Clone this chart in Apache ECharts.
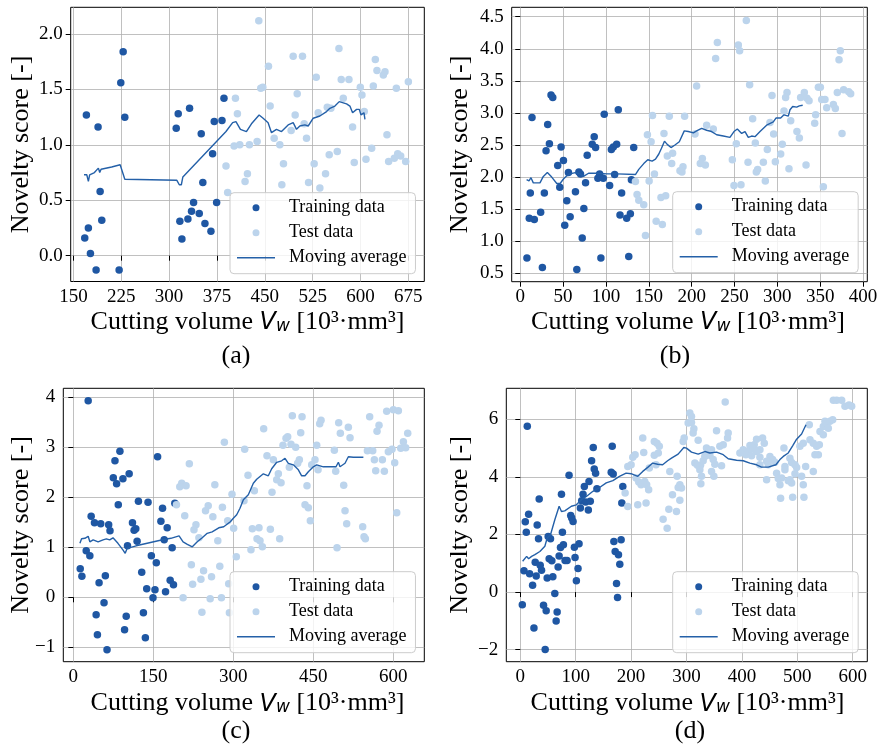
<!DOCTYPE html>
<html>
<head>
<meta charset="utf-8">
<script src="https://cdn.jsdelivr.net/npm/echarts@6/dist/echarts.min.js"></script>
<style>
html, body { margin: 0; padding: 0; background: #fff; }
#main { width: 882px; height: 745px; }
</style>
</head>
<body>
<div id="main"></div>
<script>
// panel (a)
var trainA = [[170.4,1.27],[188.7,1.16],[228,1.84],[224.3,1.56],[230.6,1.25],[191.9,0.58],[194.5,0.32],[173.5,0.25],[167.8,0.16],[176.7,0.02],[185.6,-0.13],[221.7,-0.13],[311.2,1.15],[314.3,1.28],[332.1,1.33],[350.4,1.10],[370.8,1.21],[382.9,1.22],[386,1.42],[368.2,0.92],[352.9,0.66],[338.4,0.48],[374.5,0.48],[316.9,0.31],[329.5,0.33],[335.2,0.40],[347.3,0.38],[356.2,0.29],[365.6,0.22],[320.1,0.15]];
var testA = [[389.2,0.81],[391.8,0.57],[440.6,2.12],[494.5,1.80],[509.1,1.80],[566.2,1.87],[455.8,1.71],[623.2,1.77],[625.8,1.67],[635.8,1.63],[638.4,1.66],[530.6,1.61],[569.8,1.59],[581.9,1.59],[675,1.57],[443.7,1.51],[446.9,1.52],[599.7,1.52],[620.1,1.53],[656.2,1.51],[500.8,1.46],[602.3,1.45],[404,1.42],[573,1.42],[458.4,1.35],[547.9,1.34],[553.6,1.33],[407.1,1.28],[497.6,1.27],[533.7,1.29],[605.9,1.30],[511.7,1.19],[587.6,1.16],[491.3,1.13],[464.7,1.06],[515.4,1.06],[641.5,1.09],[401.9,0.99],[410.8,1.00],[425.9,1.00],[438,1.03],[473.5,1.00],[617.5,0.97],[563.6,0.94],[551,0.91],[608.6,0.87],[590.2,0.84],[527.4,0.83],[479.3,0.83],[644.1,0.85],[653,0.88],[658.3,0.92],[663,0.90],[670.8,0.85],[422.8,0.74],[545.2,0.74],[419.1,0.67],[476.7,0.64],[518.6,0.66],[536.3,0.61]];
var avgA = [[166.7,0.73],[171,0.73],[173.5,0.67],[175.5,0.73],[183,0.75],[189.2,0.79],[191.3,0.75],[193.4,0.78],[210,0.80],[223.3,0.82],[225.4,0.83],[230.6,0.69],[312.2,0.68],[316,0.64],[319.2,0.64],[321.6,0.71],[389.2,1.12],[399.6,1.20],[404.8,1.21],[411.8,1.14],[421.2,1.12],[429.1,1.19],[441.1,1.27],[447.4,1.24],[455.2,1.20],[460.5,1.11],[468.3,1.14],[476.2,1.12],[486.6,1.18],[494.5,1.20],[499.7,1.14],[504.9,1.17],[512.8,1.18],[518,1.17],[525.9,1.24],[536.3,1.26],[546.8,1.30],[552,1.33],[559.9,1.35],[566.7,1.39],[578.2,1.37],[583.4,1.35],[587.6,1.29],[593.9,1.32],[598.1,1.32],[600.7,1.27],[605.4,1.29],[607,1.23]];
var xTicksA = [150,225,300,375,450,525,600,675];
var yTicksA = [0,0.5,1,1.5,2];

// panel (b)
var trainB = [[7.8,0.74],[10.5,1.36],[16.4,1.34],[11.7,1.75],[13.7,2.93],[25.8,0.59],[23.8,1.45],[28.1,1.75],[30.1,2.41],[32,2.82],[34,2.52],[35.9,3.28],[37.9,3.24],[43.7,2.18],[46.1,1.84],[47.6,2.47],[50.4,2.26],[51.9,1.25],[54.3,1.63],[56.2,2.07],[58.2,1.38],[64.4,1.77],[66,0.56],[68.4,2.08],[70.3,2.05],[72.3,1.05],[74.2,1.51],[76.2,1.91],[78.1,2.34],[84,2.51],[86.3,2.63],[87.9,2.46],[90.6,1.98],[92.6,2.05],[94.1,0.74],[96.9,1.98],[98,2.98],[104.3,1.87],[106.3,2.43],[108.6,2.47],[110.1,2.04],[112.5,2.51],[114.4,3.05],[116.4,1.41],[118.3,1.75],[124.2,1.36],[126.6,0.76],[128.5,1.43],[129.7,1.96],[132.4,2.46]];
var testB = [[134.4,1.93],[136.3,1.73],[138.3,1.64],[144.1,1.57],[146.1,1.09],[148.4,2.66],[150.4,1.94],[152.7,2.55],[154.3,2.96],[156.6,2.05],[158.6,1.31],[263.8,4.44],[230,4.10],[254.5,4.06],[256,3.97],[228,3.85],[373.5,3.97],[372,3.83],[205.8,3.42],[267.7,3.44],[293.8,3.27],[311.3,3.32],[309.7,3.24],[327.2,3.24],[331.5,3.32],[334.6,3.23],[337,3.19],[347.9,3.40],[350.2,3.40],[351.8,3.21],[355.6,3.21],[357.6,3.08],[365.4,3.13],[367.7,3.07],[370,3.32],[377.4,3.36],[383.3,3.33],[385.6,3.30],[173.9,2.95],[191.8,2.95],[307.8,3.03],[315.6,2.88],[344.7,2.97],[271.2,2.91],[217.5,2.81],[225.3,2.75],[291.4,2.85],[343.6,2.84],[167.7,2.68],[203.9,2.67],[295.7,2.67],[322.9,2.71],[325.7,2.61],[375.5,2.68],[252.1,2.52],[274.3,2.53],[305.8,2.51],[171.6,2.33],[177.8,2.37],[288.3,2.43],[303.9,2.36],[176.7,2.21],[212.5,2.29],[210.1,2.21],[216,2.19],[247.5,2.27],[265.8,2.23],[283.7,2.23],[297.7,2.24],[189.9,2.16],[186.4,2.10],[188.7,2.08],[275.5,2.08],[277,2.12],[313.6,2.13],[333.5,2.19],[286,1.94],[249.4,1.87],[257.6,1.88],[353.7,1.85],[169.7,1.71],[164.2,1.68],[165.8,1.26]];
var avgB = [[7.4,1.96],[10.2,1.94],[12.5,1.99],[15.2,1.91],[23,1.91],[26.9,2.01],[31.6,2.07],[36.7,2.0],[42.6,1.90],[46.5,1.90],[50.4,1.97],[54.3,2.02],[58.2,2.05],[64.1,2.07],[70,2.05],[73.8,2.01],[79.7,2.06],[89.5,2.06],[101.2,2.05],[112.9,2.05],[134.4,2.04],[138.3,2.12],[144.1,2.21],[148.8,2.27],[153.9,2.25],[157.8,2.28],[161.7,2.36],[164.8,2.45],[168.3,2.56],[171.5,2.51],[175.9,2.46],[180.5,2.50],[185.6,2.55],[191.4,2.72],[196.1,2.71],[202,2.69],[205.8,2.72],[211.7,2.76],[217.5,2.73],[223.3,2.71],[229.2,2.66],[237,2.64],[244.7,2.62],[249.4,2.71],[253.3,2.75],[258.4,2.68],[262.3,2.71],[266.1,2.62],[270,2.64],[273.9,2.63],[279.8,2.71],[287.5,2.81],[295.3,2.86],[298.4,2.92],[303.9,2.92],[307.8,2.97],[312.8,2.95],[314.8,3.05],[317.9,3.10],[322.6,3.09],[325.7,3.11],[329.6,3.12]];
var xTicksB = [0,50,100,150,200,250,300,350,400];
var yTicksB = [0.5,1,1.5,2,2.5,3,3.5,4,4.5];

// panel (c)
var trainC = [[27.9,3.93],[87.4,2.92],[78.1,2.73],[104.7,2.47],[75,2.39],[93,2.37],[81.2,2.27],[84.3,1.85],[158,2.81],[122.1,1.92],[140.1,1.90],[190.3,1.88],[167.3,1.78],[33.5,1.62],[39.7,1.49],[51.4,1.47],[66.3,1.45],[68.8,1.33],[110.9,1.49],[164.2,1.52],[176,1.39],[114,1.34],[117.1,1.37],[119.6,1.12],[170.4,1.15],[101.6,1.03],[185.3,0.99],[24.2,0.93],[31,0.83],[146.3,0.83],[155.6,0.69],[13,0.57],[16.1,0.42],[60.1,0.43],[48.3,0.29],[128.3,0.50],[181.6,0.34],[187.8,0.25],[137.6,0.17],[153.1,0.15],[172.9,0.11],[149.4,-0.01],[57.6,-0.11],[42.8,-0.35],[131.4,-0.31],[99.2,-0.38],[96.1,-0.65],[45.2,-0.75],[135.1,-0.81],[63.2,-1.05]];
var testC = [[283.2,3.10],[217.5,2.67],[203.3,2.28],[199.6,2.21],[211.4,2.23],[265.3,2.25],[193.4,1.85],[297.5,2.06],[252.9,1.83],[247.9,1.73],[279.5,1.80],[208.9,1.63],[229.9,1.45],[226.2,1.35],[261.6,1.61],[289.4,1.53],[300.6,1.38],[235.5,1.19],[270.9,1.13],[305.6,0.81],[221.3,0.65],[244.2,0.53],[239.2,0.36],[259.1,0.41],[274.6,0.62],[223.7,0.26],[205.8,-0.01],[256.6,-0.03],[277.7,-0.01],[241.1,-0.30],[291.3,0.27],[292.6,-0.31],[410.6,3.63],[428.8,3.61],[464.4,3.54],[461.9,3.47],[356.9,3.37],[497.5,3.49],[515.6,3.40],[500.6,3.28],[518.8,3.19],[555.6,3.61],[587.5,3.72],[600,3.75],[609.4,3.73],[573.1,3.44],[569.4,3.32],[626.9,3.28],[426.3,3.29],[398.8,3.18],[401.9,3.21],[393.1,3.04],[408.1,3.06],[416.9,3.00],[456.3,3.04],[489.4,2.94],[321.3,2.96],[363.1,2.83],[375,2.75],[423.8,2.75],[420.6,2.68],[453.1,2.75],[446.9,2.65],[405,2.60],[458.8,2.55],[491.9,2.52],[551.3,2.93],[561.3,2.93],[597.5,2.96],[590.6,2.91],[613.8,2.98],[618.8,3.11],[623.1,2.99],[564.4,2.75],[579.4,2.75],[602.5,2.69],[566.9,2.53],[583.1,2.52],[327.5,2.44],[384.4,2.47],[381.3,2.35],[389.4,2.29],[339.4,2.13],[372.5,2.10],[438.1,2.23],[506.9,2.24],[320,1.93],[434.4,1.85],[440.6,1.79],[509.4,1.73],[444.4,1.53],[512.5,1.47],[606.3,1.69],[542.5,1.41],[547.5,1.17],[545,1.21],[335.6,1.37],[348.1,1.39],[369.4,1.36],[344.4,1.17],[350,1.13],[354.4,1.01],[386.9,1.17],[333.1,0.95],[494.4,0.99]];
var avgC = [[12.4,1.08],[15.5,1.17],[21.7,1.18],[27.9,1.22],[31,1.11],[37.2,1.15],[46.5,1.11],[55.8,1.15],[62,1.17],[68.2,1.15],[74.4,1.19],[83.7,1.08],[93,0.95],[97.3,0.88],[101,0.98],[117.8,1.03],[142.6,1.09],[167.3,1.15],[182.8,1.18],[198.3,1.23],[205.8,1.11],[213.8,1.06],[223.1,1.01],[232.4,1.11],[241.7,1.19],[251,1.28],[260.3,1.31],[272.7,1.39],[282,1.41],[294.4,1.51],[300,1.58],[306.3,1.65],[312.5,1.78],[318.8,1.95],[328.1,2.05],[337.5,2.28],[343.8,2.36],[356.3,2.47],[365.6,2.43],[371.9,2.57],[381.3,2.70],[390.6,2.73],[396.9,2.78],[403.1,2.68],[412.5,2.65],[421.9,2.55],[428.1,2.43],[434.4,2.43],[440.6,2.51],[450,2.61],[456.3,2.65],[468.8,2.61],[481.3,2.61],[492.5,2.61],[496.9,2.70],[500,2.61],[509.4,2.68],[515.6,2.81],[525,2.80],[543.8,2.80]];
var xTicksC = [0,150,300,450,600];
var yTicksC = [-1,0,1,2,3,4];

// panel (d)
var trainD = [[12.6,5.76],[3.6,-0.44],[6.6,0.74],[9,2.44],[10.8,2.08],[15,2.70],[16.8,0.64],[22.2,0.24],[24.6,-1.25],[26.9,1.04],[28.7,0.56],[30.5,2.33],[32.9,1.85],[34.1,3.23],[35.9,0.93],[38.3,0.76],[41.9,-0.46],[44.9,-1.99],[46.7,-0.65],[48.5,0.49],[50.3,1.93],[52.1,1.16],[54.5,1.85],[56.9,1.09],[58.7,0.53],[62.3,-0.05],[64.7,-1.00],[66.5,-0.69],[68.3,0.87],[70.1,1.25],[72.5,1.55],[74.3,3.40],[76,2.08],[77.8,1.64],[80.8,1.10],[84.4,1.10],[88,4.06],[91,2.66],[92.8,2.57],[95.2,2.45],[97.6,1.56],[98.8,1.20],[101.2,0.39],[104.2,0.82],[106,1.68],[108.4,2.92],[110.8,3.17],[113.2,3.40],[115.6,3.67],[118,3.13],[122.8,2.85],[124,3.84],[126.3,3.15],[128.7,4.56],[131.7,5.02],[133.5,4.27],[135.9,4.13],[138.3,3.59],[165.9,5.06],[164.1,4.16],[167.7,4.10],[168.9,1.76],[171.3,1.41],[173.7,0.30],[175.5,-0.19],[177.2,1.30],[179.6,0.97],[182,1.82],[185,3.67],[183.2,3.09]];
var testD = [[221,5.35],[203,4.68],[207.2,4.77],[222.8,4.85],[194,4.36],[200,4.42],[209,3.96],[213.8,3.82],[218,3.73],[224.6,3.84],[228.1,3.73],[231.7,3.55],[189.2,3.44],[194,2.97],[212,3.03],[227,3.09],[232.9,4.31],[241.9,5.23],[246.7,5.17],[250.9,5.06],[241.9,4.75],[249.1,4.83],[244.9,4.42],[369.9,6.60],[306,6.22],[309,6.10],[303,5.87],[309,5.89],[313.3,5.67],[312,5.52],[354.2,5.60],[375.3,5.52],[295.8,5.35],[294,5.23],[321.1,5.27],[374.1,5.35],[426.5,5.31],[437.3,5.35],[440.4,5.17],[422.3,5.12],[414.5,5.09],[366.3,5.12],[360.2,5.06],[336.1,5.00],[345.2,4.94],[414.5,4.94],[432.5,4.94],[475.9,5.00],[504.8,5.06],[522.9,5.29],[528.9,5.17],[534.9,5.06],[538,4.77],[531.9,4.77],[539.8,5.12],[521.7,5.81],[541,5.58],[547,5.75],[553,5.87],[559,5.93],[563.9,5.98],[547,5.46],[556,5.69],[550,5.93],[565.1,6.66],[571.1,6.66],[580.1,6.66],[586.1,6.45],[593.4,6.50],[598.2,6.45],[510.8,5.17],[315.1,4.48],[319.9,4.40],[325.3,4.40],[330.1,4.56],[333.1,4.71],[342.2,4.75],[348.2,4.60],[351.2,4.44],[363.3,4.39],[324.1,4.25],[345.2,4.19],[349.4,4.02],[327.1,4.02],[325.9,3.76],[396.4,4.83],[402.4,4.94],[410.2,4.88],[420.5,5.00],[407.2,4.77],[417.5,4.73],[426.5,4.88],[432.5,4.68],[450.6,4.71],[455.4,4.60],[459.6,4.51],[444.6,4.54],[432.5,4.42],[447.6,4.42],[477.7,4.36],[486.7,4.65],[489.8,4.50],[495.8,4.42],[498.8,4.33],[515.1,4.36],[528.9,4.19],[462.7,4.13],[477.7,4.25],[444.6,3.90],[465.7,3.94],[471.7,3.96],[468.7,3.73],[483.7,3.87],[486.7,3.90],[489.8,3.79],[495.8,4.11],[507.8,4.02],[510.8,3.73],[469.9,3.26],[491.6,3.29],[512,3.29],[269.9,4.19],[283.1,4.02],[288,3.73],[291,3.61],[285,3.63],[274.7,3.38],[288,3.19],[268.1,2.88],[281.9,2.80],[257.8,2.53],[265.1,2.22]];
var avgD = [[4.2,1.07],[11.4,1.24],[15,1.16],[20.4,1.24],[26.3,1.30],[35.3,1.41],[44.3,1.59],[48.5,1.88],[54.5,1.99],[62.3,2.51],[70.1,2.98],[74.3,2.80],[80.2,2.82],[92.2,2.98],[101.2,3.03],[110.2,3.21],[119.2,3.32],[131.1,3.50],[143.1,3.63],[155.1,3.79],[167.1,3.87],[179,4.02],[191,4.13],[200,4.11],[212,4.02],[221,4.19],[230,4.33],[239,4.48],[247.9,4.44],[256.9,4.42],[265.9,4.56],[272.9,4.65],[284.9,4.79],[295.2,5.02],[300,5.0],[309,4.86],[321.1,4.79],[333.1,4.88],[342.2,4.83],[354.2,4.86],[366.3,4.77],[375.3,4.63],[390.4,4.58],[402.4,4.56],[414.5,4.48],[426.5,4.42],[435.5,4.34],[447.6,4.34],[461.4,4.42],[468.7,4.60],[474.7,4.71],[483.7,4.83],[491.6,5.08],[498.8,5.31],[507.8,5.49],[515.7,5.81]];
var xTicksD = [0,100,200,300,400,500,600];
var yTicksD = [-2,0,2,4,6];

var serif = '"Liberation Serif", "Times New Roman", serif';
var darkBlue = '#1f57a3', lightBlue = '#bcd4ec', lineBlue = '#2460a8';

var panels = [
    {train: trainA, test: testA, avg: avgA, xTicks: xTicksA, yTicks: yTicksA, xMin: 145.8, xMax: 700, yMin: -0.233, yMax: 2.241, dec: 1,
     grid: {left: 70.7, top: 7.3, width: 353.6, height: 274.2}, leg: [230, 192.7], yTitle: [21, 144.5], xTitle: [247.5, 320], tag: ['(a)', 236, 356]},
    {train: trainB, test: testB, avg: avgB, xTicks: xTicksB, yTicks: yTicksB, xMin: -10, xMax: 405, yMin: 0.369, yMax: 4.647, dec: 1,
     grid: {left: 511.7, top: 7.3, width: 355.6, height: 274.4}, leg: [672.7, 191.7], yTitle: [460, 144.5], xTitle: [688, 320], tag: ['(b)', 675, 356]},
    {train: trainC, test: testC, avg: avgC, xTicks: xTicksC, yTicks: yTicksC, xMin: -18.75, xMax: 658, yMin: -1.288, yMax: 4.18, dec: 0,
     grid: {left: 63.3, top: 388.3, width: 361, height: 273.4}, leg: [230, 571.7], yTitle: [21, 525], xTitle: [247.5, 701.5], tag: ['(c)', 236, 731]},
    {train: trainD, test: testD, avg: avgD, xTicks: xTicksD, yTicks: yTicksD, xMin: -25.3, xMax: 626.4, yMin: -2.417, yMax: 7.076, dec: 0,
     grid: {left: 506.3, top: 388.3, width: 361, height: 273.4}, leg: [672.7, 571.7], yTitle: [460, 525], xTitle: [687.5, 701.5], tag: ['(d)', 690, 731]}
];

function fmt(dec) {
    return function (v) {
        return (v < 0 ? '\u2212' : '') + Math.abs(v).toFixed(dec);
    };
}

var grids = [], xAxes = [], yAxes = [], series = [], legends = [], graphics = [];
panels.forEach(function (p, i) {
    grids.push({left: p.grid.left, top: p.grid.top, width: p.grid.width, height: p.grid.height,
        show: true, borderColor: '#000', borderWidth: 1, backgroundColor: 'transparent'});
    xAxes.push({
        type: 'value', gridIndex: i, min: p.xMin, max: p.xMax,
        axisLine: {show: false},
        axisTick: {show: true, length: 5, customValues: p.xTicks, lineStyle: {color: '#000', width: 1}},
        axisLabel: {customValues: p.xTicks, fontFamily: serif, fontSize: 19, color: '#000', margin: 6, formatter: fmt(0)},
        splitLine: {show: true, lineStyle: {color: '#b0b0b0', width: 0.8}}
    });
    yAxes.push({
        type: 'value', gridIndex: i, min: p.yMin, max: p.yMax,
        axisLine: {show: false},
        axisTick: {show: true, length: 5, customValues: p.yTicks, lineStyle: {color: '#000', width: 1}},
        axisLabel: {customValues: p.yTicks, fontFamily: serif, fontSize: 19, color: '#000', margin: 8, formatter: fmt(p.dec)},
        splitLine: {show: true, lineStyle: {color: '#b0b0b0', width: 0.8}}
    });
    series.push({name: 'Training data', type: 'scatter', xAxisIndex: i, yAxisIndex: i, data: p.train,
        symbolSize: 7.5, itemStyle: {color: darkBlue, opacity: 1}, z: 2});
    series.push({name: 'Test data', type: 'scatter', xAxisIndex: i, yAxisIndex: i, data: p.test,
        symbolSize: 7.5, itemStyle: {color: lightBlue, opacity: 1}, z: 3});
    series.push({name: 'Moving average', type: 'line', xAxisIndex: i, yAxisIndex: i, data: p.avg,
        symbol: 'none', lineStyle: {color: lineBlue, width: 1.4}, itemStyle: {color: lineBlue}, z: 4});
    legends.push({
        data: [
            {name: 'Training data', icon: 'circle'},
            {name: 'Test data', icon: 'circle'},
            {name: 'Moving average', icon: 'path://M0,0h38v1.5h-38z'}
        ],
        orient: 'vertical', left: p.leg[0], top: p.leg[1],
        itemWidth: 38, itemHeight: 7, itemGap: 5, padding: [5, 9, 6, 7],
        backgroundColor: 'rgba(255,255,255,0.8)', borderColor: '#cccccc', borderWidth: 1, borderRadius: 4,
        selectedMode: false,
        textStyle: {fontFamily: serif, fontSize: 18, color: '#000', lineHeight: 20, padding: [0, 0, 0, 9]}
    });
    graphics.push({
        type: 'text', x: p.yTitle[0], y: p.yTitle[1], rotation: Math.PI / 2,
        style: {text: 'Novelty score [-]', font: '26px ' + serif, fill: '#000', align: 'center', verticalAlign: 'middle'}
    });
    graphics.push({
        type: 'text', x: p.xTitle[0], y: p.xTitle[1],
        style: {
            text: '{n|Cutting volume }{v|V}{s|w}{n| [10³·mm³]}',
            align: 'center', verticalAlign: 'middle',
            rich: {
                n: {fontFamily: serif, fontSize: 26, lineHeight: 30, verticalAlign: 'bottom', fill: '#000'},
                v: {fontFamily: '"DejaVu Sans"', fontStyle: 'italic', fontSize: 24, lineHeight: 30, verticalAlign: 'bottom', fill: '#000'},
                s: {fontFamily: '"DejaVu Sans"', fontStyle: 'italic', fontSize: 17, lineHeight: 12, verticalAlign: 'bottom', fill: '#000'}
            }
        }
    });
    graphics.push({
        type: 'text', x: p.tag[1], y: p.tag[2],
        style: {text: p.tag[0], font: '26px ' + serif, fill: '#000', align: 'center', verticalAlign: 'middle'}
    });
});

var chart = echarts.init(document.getElementById('main'));
chart.setOption({
    animation: false,
    backgroundColor: '#fff',
    grid: grids,
    xAxis: xAxes,
    yAxis: yAxes,
    legend: legends,
    graphic: graphics,
    series: series
});
</script>
</body>
</html>
